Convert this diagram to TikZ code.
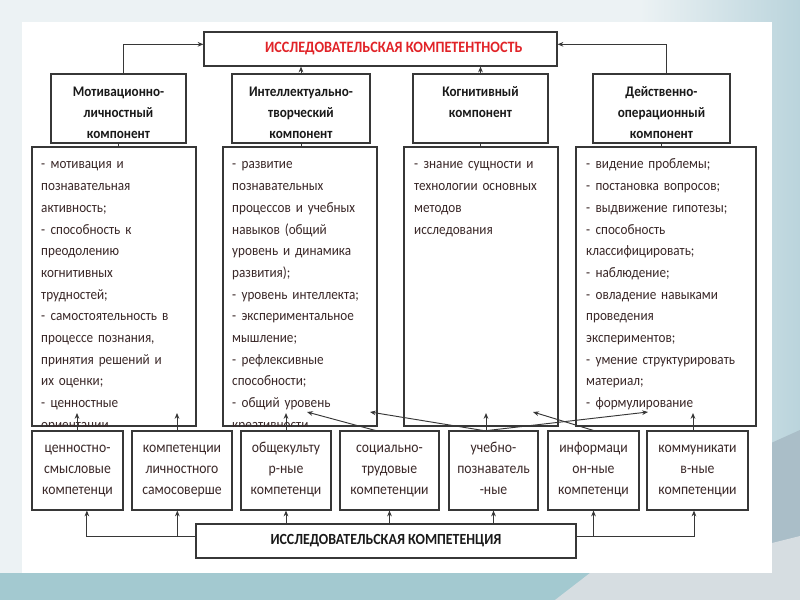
\documentclass[tikz,border=0pt]{standalone}
\usepackage{fontspec}
\setmainfont{Carlito}[FakeStretch=0.9]
\usetikzlibrary{arrows.meta,positioning}

\definecolor{boxline}{RGB}{55,55,55}
\definecolor{itemtext}{RGB}{58,40,40}
\definecolor{titlered}{RGB}{225,35,40}
\definecolor{sky}{RGB}{236,242,244}
\definecolor{skyedge}{RGB}{186,212,220}
\definecolor{sea}{RGB}{163,201,208}
\definecolor{laptop}{RGB}{214,221,225}
\definecolor{screen}{RGB}{170,190,200}

\newcommand{\itm}[1]{\hangindent=8pt\hangafter=1\makebox[8pt][l]{-}#1\par}

\tikzstyle{panelbox} = [rectangle, draw=boxline, line width=0.9pt, fill=white, inner sep=0pt]
\tikzstyle{headline} = [panelbox, minimum width=10.59cm, minimum height=1.02cm, text=titlered, font=\fontsize{13.5}{15}\selectfont\bfseries]
\tikzstyle{compbox} = [panelbox, minimum height=2.07cm]
\tikzstyle{comptext} = [inner sep=0pt, anchor=base, align=center, font=\fontsize{12.5}{17.9}\selectfont\bfseries, text=black!90]
\tikzstyle{listbox} = [panelbox, minimum height=8.37cm]
\tikzstyle{listtext} = [inner sep=0pt, anchor=base west, text width=7cm, align=left, font=\fontsize{12.5}{18.5}\selectfont, text=itemtext]
\tikzstyle{skillbox} = [panelbox, minimum height=2.37cm, align=center, text height=9pt, text depth=39pt, font=\fontsize{13}{17.9}\selectfont, text=itemtext]
\tikzstyle{footline} = [panelbox, minimum width=11.4cm, minimum height=1.02cm, font=\fontsize{13.2}{15}\selectfont\bfseries, text=black!90]
\tikzstyle{link} = [line width=0.8pt, draw=boxline]
\tikzstyle{arrow} = [link, ->, >={Stealth[length=5pt,width=4pt]}]

\begin{document}
\begin{tikzpicture}[x=0.03cm, y=-0.03cm]
\useasboundingbox (0,0) rectangle (800,600);

% backdrop
\fill[sky] (0,0) rectangle (800,600);
\shade[left color=sky, right color=skyedge] (640,0) rectangle (800,573);
\fill[sea] (0,573) rectangle (800,600);
\fill[screen] (760,448) -- (800,430) -- (800,538) -- (760,552) -- cycle;
\fill[laptop] (555,600) -- (590,573) -- (772,543) -- (800,536) -- (800,600) -- cycle;
\fill[white] (22,22) rectangle (772,573);

% top
\node (title) [headline] at (380.5,49) {\hspace*{0.8cm}ИССЛЕДОВАТЕЛЬСКАЯ КОМПЕТЕНТНОСТЬ};

\node (comp1) [compbox, minimum width=4.05cm] at (118.5,108.5) {};
\node (comp2) [compbox, minimum width=4.14cm] at (301,108.5) {};
\node (comp3) [compbox, minimum width=4.05cm] at (480.5,108.5) {};
\node (comp4) [compbox, minimum width=4.11cm] at (661.5,108.5) {};

\node (name1) [comptext, text width=3.9cm] at (118.5,97) {Мотивационно-\\личностный\\компонент};
\node (name2) [comptext, text width=4cm] at (301,97) {Интеллектуально-\\творческий\\компонент};
\node (name3) [comptext, text width=3.9cm] at (480.5,97) {Когнитивный\\компонент};
\node (name4) [comptext, text width=4cm] at (661.5,97) {Действенно-\\операционный\\компонент};

% lists
\node (list1) [listbox, minimum width=4.92cm] at (114,286.5) {};
\node (list2) [listbox, minimum width=4.62cm] at (300,286.5) {};
\node (list3) [listbox, minimum width=4.62cm] at (481,286.5) {};
\node (list4) [listbox, minimum width=5.4cm] at (666,286.5) {};

\begin{scope}
\clip (list1.south west) rectangle (list1.north east);
\node (items1) [listtext] at (41,169) {%
\itm{мотивация и\\познавательная\\активность;}%
\itm{способность к\\преодолению\\когнитивных\\трудностей;}%
\itm{самостоятельность в\\процессе познания,\\принятия решений и\\их оценки;}%
\itm{ценностные\\ориентации}};
\end{scope}

\begin{scope}
\clip (list2.south west) rectangle (list2.north east);
\node (items2) [listtext] at (232,169) {%
\itm{развитие\\познавательных\\процессов и учебных\\навыков (общий\\уровень и динамика\\развития);}%
\itm{уровень интеллекта;}%
\itm{экспериментальное\\мышление;}%
\itm{рефлексивные\\способности;}%
\itm{общий уровень\\креативности}};
\end{scope}

\node (items3) [listtext] at (414,169) {%
\itm{знание сущности и\\технологии основных\\методов\\исследования}};

\begin{scope}
\clip (list4.south west) rectangle (list4.north east);
\node (items4) [listtext] at (586,169) {%
\itm{видение проблемы;}%
\itm{постановка вопросов;}%
\itm{выдвижение гипотезы;}%
\itm{способность\\классифицировать;}%
\itm{наблюдение;}%
\itm{овладение навыками\\проведения\\экспериментов;}%
\itm{умение структурировать\\материал;}%
\itm{формулирование}};
\end{scope}

% competences
\node (b1) [skillbox, minimum width=2.73cm, text width=2.6cm] at (77.5,470.5) {ценностно-\\смысловые\\компетенци};
\node (b2) [skillbox, minimum width=3cm, text width=2.9cm] at (182,470.5) {компетенции\\личностного\\самосоверше};
\node (b3) [skillbox, minimum width=2.7cm, text width=2.6cm] at (286,470.5) {общекульту\\р-ные\\компетенци};
\node (b4) [skillbox, minimum width=2.97cm, text width=2.9cm] at (389.5,470.5) {социально-\\трудовые\\компетенции};
\node (b5) [skillbox, minimum width=2.67cm, text width=2.6cm] at (493.5,470.5) {учебно-\\познаватель\\-ные};
\node (b6) [skillbox, minimum width=2.73cm, text width=2.6cm] at (593.5,470.5) {информаци\\он-ные\\компетенци};
\node (b7) [skillbox, minimum width=3.03cm, text width=2.9cm] at (697.5,470.5) {коммуникати\\в-ные\\компетенции};

\node (final) [footline] at (386,541) {ИССЛЕДОВАТЕЛЬСКАЯ КОМПЕТЕНЦИЯ};

% free ends inside the lists
\coordinate (e1) at (77,413);
\coordinate (e2) at (177,413);
\coordinate (e3) at (286,413);
\coordinate (e4) at (307,412);
\coordinate (e5) at (370,412);
\coordinate (e6) at (486,413);
\coordinate (e7) at (648,412);
\coordinate (e8) at (533,412);
\coordinate (e9) at (693,413);

% connectors
\draw [arrow] ([xshift=4pt]comp1.north) |- ([yshift=4pt]title.west);
\draw [arrow] ([xshift=4pt]comp4.north) |- ([yshift=4pt]title.east);
\draw [arrow] (comp2.north) -- (comp2.north |- title.south);
\draw [arrow] (comp3.north) -- (comp3.north |- title.south);

\draw [link] (comp1.south) -- (comp1.south |- list1.north);
\draw [link] (comp2.south) -- (comp2.south |- list2.north);
\draw [link] (comp3.south) -- (comp3.south |- list3.north);
\draw [link] (comp4.south) -- (comp4.south |- list4.north);

\draw [arrow] (b1.north -| e1) -- (e1);
\draw [arrow] (b2.north -| e2) -- (e2);
\draw [arrow] (b3.north -| e3) -- (e3);
\draw [arrow] ([xshift=-12pt]b4.north) -- (e4);
\draw [arrow] ([xshift=-9pt]b5.north) -- (e5);
\draw [arrow] (b5.north -| e6) -- (e6);
\draw [arrow] ([xshift=-5pt]b5.north) -- (e7);
\draw [arrow] (b6.north) -- (e8);
\draw [arrow] (b7.north -| e9) -- (e9);

\draw [arrow] ([yshift=4pt]final.west) -| ([xshift=8pt]b1.south);
\draw [arrow] ([yshift=4pt]final.west) -| ([xshift=-4pt]b2.south);
\draw [arrow] (b3.south |- final.north) -- (b3.south);
\draw [arrow] (b4.south |- final.north) -- (b4.south);
\draw [arrow] (b5.south |- final.north) -- (b5.south);
\draw [arrow] ([yshift=4pt]final.east) -| (b6.south);
\draw [arrow] ([yshift=4pt]final.east) -| ([xshift=-3pt]b7.south);
\end{tikzpicture}
\end{document}
